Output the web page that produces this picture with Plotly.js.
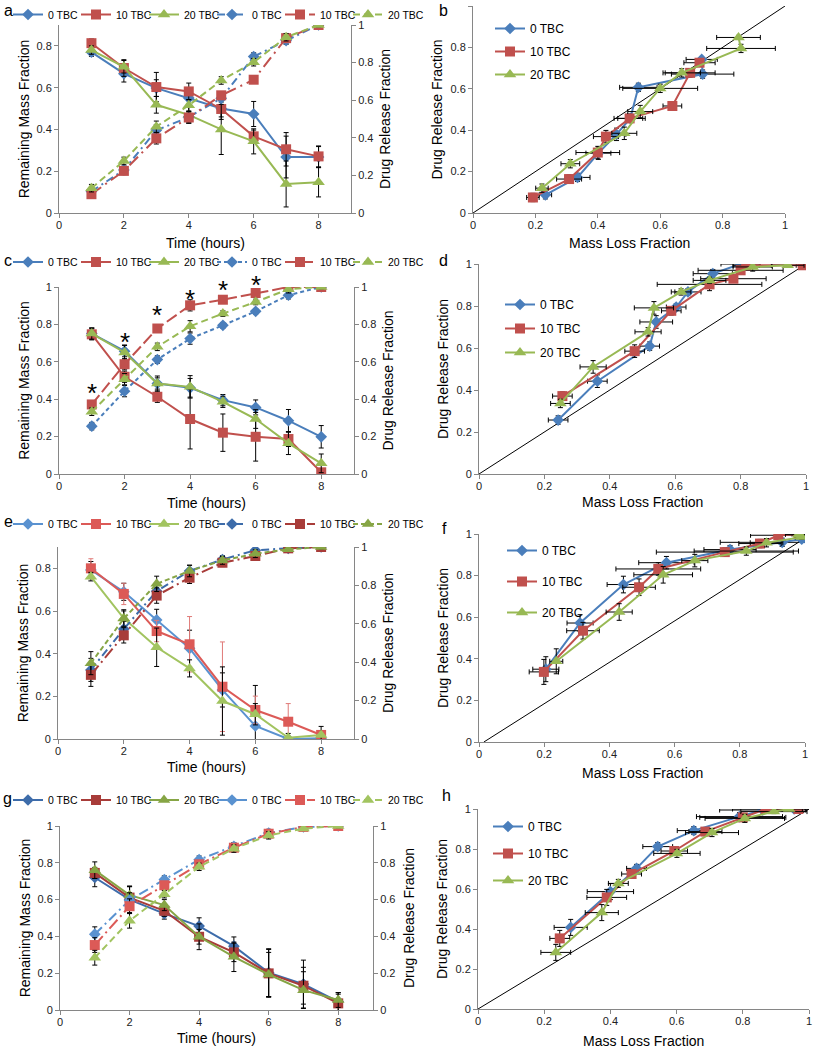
<!DOCTYPE html>
<html>
<head>
<meta charset="utf-8">
<script src="https://cdn.plot.ly/plotly-3.0.1.min.js"></script>
<style>body{margin:0;background:#fff}#plot{width:815px;height:1050px}</style>
</head>
<body>
<div id="plot"></div>
<script>
var W = 815, H = 1050;
var hours = [1, 2, 3, 4, 5, 6, 7, 8];
var seriesNames = ['0 TBC', '10 TBC', '20 TBC'];

// a: remaining mass (left axis) and drug release (right axis) vs time
var aMass0 = [0.77, 0.667, 0.598, 0.55, 0.50, 0.474, 0.268, 0.268];
var aMass10 = [0.813, 0.694, 0.603, 0.582, 0.498, 0.367, 0.305, 0.271];
var aMass20 = [0.78, 0.70, 0.518, 0.47, 0.40, 0.343, 0.139, 0.147];
var aMassErr0 = [0.02, 0.04, 0.04, 0.03, 0.04, 0.06, 0.10, 0.05];
var aMassErr10 = [0.02, 0.04, 0.07, 0.04, 0.05, 0.03, 0.08, 0.05];
var aMassErr20 = [0.02, 0.03, 0.04, 0.04, 0.12, 0.06, 0.11, 0.07];
var aRel0 = [0.115, 0.229, 0.44, 0.51, 0.61, 0.832, 0.917, 1.0];
var aRel10 = [0.10, 0.224, 0.397, 0.508, 0.626, 0.709, 0.93, 1.0];
var aRel20 = [0.132, 0.277, 0.459, 0.573, 0.705, 0.802, 0.935, 1.0];
var aRelErr = [0.02, 0.02, 0.03, 0.03, 0.02, 0.02, 0.02, 0.01];

// b: drug release vs mass loss
var bLoss0 = [0.232, 0.335, 0.402, 0.46, 0.504, 0.530, 0.736, 0.733];
var bRel0 = [0.088, 0.172, 0.289, 0.38, 0.457, 0.607, 0.671, 0.742];
var bLoss10 = [0.192, 0.308, 0.40, 0.426, 0.502, 0.639, 0.696, 0.726];
var bRel10 = [0.075, 0.164, 0.292, 0.369, 0.457, 0.517, 0.677, 0.726];
var bLoss20 = [0.221, 0.312, 0.485, 0.536, 0.60, 0.669, 0.859, 0.851];
var bRel20 = [0.12, 0.238, 0.385, 0.49, 0.602, 0.677, 0.795, 0.848];

// c
var cMass0 = [0.751, 0.657, 0.484, 0.461, 0.395, 0.356, 0.285, 0.199];
var cMass10 = [0.747, 0.52, 0.413, 0.294, 0.221, 0.199, 0.187, 0.009];
var cMass20 = [0.751, 0.65, 0.484, 0.466, 0.386, 0.294, 0.164, 0.057];
var cMassErr0 = [0.03, 0.03, 0.03, 0.05, 0.03, 0.04, 0.06, 0.06];
var cMassErr10 = [0.03, 0.03, 0.03, 0.16, 0.10, 0.13, 0.04, 0.02];
var cMassErr20 = [0.03, 0.04, 0.04, 0.06, 0.03, 0.05, 0.06, 0.05];
var cRel0 = [0.256, 0.443, 0.612, 0.724, 0.795, 0.87, 0.956, 1.0];
var cRel10 = [0.372, 0.587, 0.778, 0.902, 0.932, 0.968, 1.0, 1.0];
var cRel20 = [0.333, 0.507, 0.68, 0.79, 0.858, 0.92, 0.988, 1.0];
var cRelErr = [0.02, 0.03, 0.02, 0.03, 0.015, 0.015, 0.02, 0.01];
var cStarHours = [1, 2, 3, 4, 5, 6];
var cStarY = [0.46, 0.73, 0.875, 0.96, 1.01, 1.035];

// d
var dLoss0 = [0.242, 0.362, 0.522, 0.542, 0.603, 0.639, 0.715, 0.80];
var dRel0 = [0.257, 0.442, 0.609, 0.724, 0.795, 0.867, 0.954, 1.0];
var dLoss10 = [0.255, 0.476, 0.588, 0.705, 0.778, 0.80, 0.817, 0.99];
var dRel10 = [0.371, 0.585, 0.777, 0.903, 0.93, 0.97, 0.994, 0.994];
var dLoss20 = [0.249, 0.349, 0.517, 0.535, 0.618, 0.705, 0.837, 0.944];
var dRel20 = [0.336, 0.51, 0.677, 0.791, 0.867, 0.922, 0.986, 0.994];

// e
var eMass0 = [0.792, 0.69, 0.558, 0.425, 0.23, 0.061, 0.0, 0.003];
var eMass10 = [0.80, 0.68, 0.506, 0.444, 0.245, 0.136, 0.081, 0.019];
var eMass20 = [0.761, 0.566, 0.43, 0.331, 0.178, 0.116, 0.006, 0.019];
var eMassErr0 = [0.04, 0.04, 0.05, 0.085, 0.08, 0.19, 0.01, 0.01];
var eMassErr10 = [0.045, 0.05, 0.05, 0.13, 0.21, 0.065, 0.085, 0.02];
var eMassErr20 = [0.02, 0.04, 0.09, 0.04, 0.16, 0.05, 0.02, 0.04];
var eRel0 = [0.36, 0.573, 0.77, 0.875, 0.935, 0.983, 0.993, 1.0];
var eRel10 = [0.334, 0.54, 0.747, 0.84, 0.918, 0.953, 0.993, 1.0];
var eRel20 = [0.395, 0.627, 0.808, 0.875, 0.93, 0.965, 0.988, 1.0];
var eRelErr = [0.06, 0.04, 0.04, 0.03, 0.02, 0.02, 0.01, 0.01];

// f
var fLoss0 = [0.205, 0.31, 0.443, 0.575, 0.77, 0.93, 0.99, 1.0];
var fRel0 = [0.35, 0.572, 0.757, 0.862, 0.925, 0.96, 0.975, 0.982];
var fLoss10 = [0.199, 0.319, 0.491, 0.55, 0.754, 0.862, 0.918, 0.98];
var fRel10 = [0.337, 0.535, 0.744, 0.832, 0.913, 0.954, 0.994, 1.0];
var fLoss20 = [0.237, 0.43, 0.565, 0.662, 0.82, 0.882, 0.99, 0.98];
var fRel20 = [0.388, 0.625, 0.804, 0.872, 0.918, 0.958, 0.985, 0.998];

// g
var gMass0 = [0.72, 0.60, 0.524, 0.456, 0.347, 0.203, 0.141, 0.045];
var gMass10 = [0.745, 0.611, 0.539, 0.398, 0.313, 0.199, 0.132, 0.036];
var gMass20 = [0.76, 0.624, 0.57, 0.398, 0.289, 0.193, 0.108, 0.054];
var gMassErr0 = [0.05, 0.07, 0.03, 0.045, 0.05, 0.13, 0.13, 0.05];
var gMassErr10 = [0.03, 0.06, 0.03, 0.04, 0.05, 0.13, 0.10, 0.05];
var gMassErr20 = [0.045, 0.05, 0.03, 0.07, 0.08, 0.12, 0.10, 0.04];
var gRel0 = [0.412, 0.597, 0.709, 0.817, 0.89, 0.962, 0.995, 1.0];
var gRel10 = [0.353, 0.564, 0.678, 0.792, 0.882, 0.958, 0.995, 1.0];
var gRel20 = [0.284, 0.485, 0.629, 0.778, 0.877, 0.949, 0.986, 1.0];
var gRelErr = [0.04, 0.04, 0.02, 0.02, 0.02, 0.02, 0.01, 0.01];

// h
var hLoss0 = [0.28, 0.40, 0.479, 0.543, 0.652, 0.79, 0.86, 0.955];
var hRel0 = [0.408, 0.587, 0.703, 0.812, 0.892, 0.962, 0.995, 1.0];
var hLoss10 = [0.247, 0.389, 0.464, 0.593, 0.687, 0.80, 0.869, 0.968];
var hRel10 = [0.353, 0.558, 0.675, 0.79, 0.887, 0.958, 1.0, 1.0];
var hLoss20 = [0.235, 0.374, 0.424, 0.601, 0.707, 0.806, 0.894, 0.94];
var hRel20 = [0.283, 0.482, 0.628, 0.778, 0.882, 0.953, 0.987, 1.0];

// reference y = x lines
var diagX = [0, 1], diagY = [0, 1];
var fDiagX = [0.015, 1], fDiagY = [0, 0.98];

var symbols = ['diamond', 'square', 'triangle-up'];
var symSize = [9, 10, 11];
var stdCol = ['#4A7EBB', '#C0504D', '#98B954'];
var lightCol = ['#5A92D0', '#DC5A57', '#A2C460'];
var darkCol = ['#3D6CAA', '#A83C39', '#86A545'];

// legendPx for the time panels is the centre of the legend row; 'top' pins the first legend to the page top
var left = [
  {letter: 'a', xPx: [59, 351], yPx: [25, 213], massTop: 0.9,
   mass: [aMass0, aMass10, aMass20], massErr: [aMassErr0, aMassErr10, aMassErr20],
   rel: [aRel0, aRel10, aRel20], relErr: aRelErr,
   solidCol: stdCol, dashCol: stdCol, errCol: ['#000', '#000', '#000'],
   dash: ['8px,4px,2px,4px', '12px,5px,2px,5px', '7px,4px'], legendPx: [8, 0], legendAnchor: 'top',
   labelPx: [2, 0], labelAnchor: 'top', xTitleY: 243, rStand: 7},
  {letter: 'c', xPx: [59, 354], yPx: [287, 474], massTop: 1,
   mass: [cMass0, cMass10, cMass20], massErr: [cMassErr0, cMassErr10, cMassErr20],
   rel: [cRel0, cRel10, cRel20], relErr: cRelErr,
   solidCol: stdCol, dashCol: stdCol, errCol: ['#000', '#000', '#000'],
   dash: ['4px,3px', '12px,4px', '7px,4px'], legendPx: [8, 262], legendAnchor: 'middle',
   labelPx: [2, 260], labelAnchor: 'middle', xTitleY: 503, rStand: 7},
  {letter: 'e', xPx: [58, 354], yPx: [547, 739], massTop: 0.9,
   mass: [eMass0, eMass10, eMass20], massErr: [eMassErr0, eMassErr10, eMassErr20],
   rel: [eRel0, eRel10, eRel20], relErr: eRelErr,
   solidCol: lightCol, dashCol: darkCol, errCol: ['#000', '#E07A78', '#000'],
   dash: ['8px,4px,2px,4px', '12px,4px,2px,4px', '5px,3px'], legendPx: [8, 524], legendAnchor: 'middle',
   labelPx: [2, 521], labelAnchor: 'middle', xTitleY: 767, rStand: 7},
  {letter: 'g', xPx: [60, 373], yPx: [826, 1010], massTop: 1,
   mass: [gMass0, gMass10, gMass20], massErr: [gMassErr0, gMassErr10, gMassErr20],
   rel: [gRel0, gRel10, gRel20], relErr: gRelErr,
   solidCol: darkCol, dashCol: lightCol, errCol: ['#000', '#000', '#000'],
   dash: ['10px,4px,2px,4px', '12px,4px,2px,4px', '7px,4px'], legendPx: [8, 800], legendAnchor: 'middle',
   labelPx: [1, 798], labelAnchor: 'middle', xTitleY: 1038, rStand: 9}
];

var right = [
  {letter: 'b', xPx: [473, 785], yPx: [6, 213],
   loss: [bLoss0, bLoss10, bLoss20], rel: [bRel0, bRel10, bRel20],
   lossErr: [aMassErr0, aMassErr10, aMassErr20], relErr: aRelErr,
   diag: [diagX, diagY], legendPx: [490, 14], gap: 4, labelPx: [437, 0], labelAnchor: 'top', xTitleY: 243},
  {letter: 'd', xPx: [479, 806], yPx: [264, 474],
   loss: [dLoss0, dLoss10, dLoss20], rel: [dRel0, dRel10, dRel20],
   lossErr: [cMassErr0, cMassErr10, cMassErr20], relErr: cRelErr,
   diag: [diagX, diagY], legendPx: [500, 290], gap: 5, labelPx: [437, 260], labelAnchor: 'middle', xTitleY: 502},
  {letter: 'f', xPx: [479, 805], yPx: [534, 742],
   loss: [fLoss0, fLoss10, fLoss20], rel: [fRel0, fRel10, fRel20],
   lossErr: [eMassErr0, eMassErr10, eMassErr20], relErr: eRelErr,
   diag: [fDiagX, fDiagY], legendPx: [502, 536], gap: 12, labelPx: [440, 528], labelAnchor: 'middle', xTitleY: 773},
  {letter: 'h', xPx: [478, 809], yPx: [809, 1009],
   loss: [hLoss0, hLoss10, hLoss20], rel: [hRel0, hRel10, hRel20],
   lossErr: [gMassErr0, gMassErr10, gMassErr20], relErr: gRelErr,
   diag: [diagX, diagY], legendPx: [488, 812], gap: 8, labelPx: [440, 795], labelAnchor: 'middle', xTitleY: 1041}
];

function axId(l, n) { return l + (n === 1 ? '' : n); }
function axKey(l, n) { return l + 'axis' + (n === 1 ? '' : n); }
function legKey(n) { return 'legend' + (n === 1 ? '' : n); }
function baseAxis(o) {
  var a = {showline: true, linecolor: '#868686', linewidth: 1, ticks: 'outside', ticklen: 4,
    tickcolor: '#868686', showgrid: false, zeroline: false, fixedrange: true,
    tickfont: {size: 11, color: '#222'}};
  for (var k in o) a[k] = o[k];
  return a;
}
function ttl(text, standoff) { return {text: text, font: {size: 14, color: '#000'}, standoff: standoff}; }
function errBar(arr, col) { return {type: 'data', array: arr, color: col, thickness: 1, width: 2.5}; }
function xTitle(xn, text, py) {
  return {xref: axId('x', xn) + ' domain', yref: 'paper', x: 0.5, y: 1 - py / H, xanchor: 'center',
    yanchor: 'middle', text: text, showarrow: false, font: {size: 14, color: '#000'}};
}
function panelLabel(p) {
  return {xref: 'paper', yref: 'paper', x: p.labelPx[0] / W, y: 1 - p.labelPx[1] / H,
    xanchor: 'left', yanchor: p.labelAnchor, text: p.letter, showarrow: false, font: {size: 16}};
}

var traces = [];
var layout = {
  width: W, height: H, margin: {l: 0, r: 0, t: 0, b: 0},
  paper_bgcolor: '#fff', plot_bgcolor: 'rgba(0,0,0,0)',
  font: {family: 'Liberation Sans, Arial, sans-serif', color: '#000', size: 11},
  annotations: []
};

left.forEach(function (p, i) {
  var xn = 2 * i + 1, ym = 3 * i + 1, yr = 3 * i + 2, ln = 2 * i + 1;
  var xd = [p.xPx[0] / W, p.xPx[1] / W], yd = [1 - p.yPx[1] / H, 1 - p.yPx[0] / H];
  layout[axKey('x', xn)] = baseAxis({domain: xd, anchor: axId('y', ym), range: [0, 9], dtick: 2, tick0: 0,
    ticklabelstandoff: -2});
  layout[axKey('y', ym)] = baseAxis({domain: yd, anchor: axId('x', xn), range: [0, p.massTop], dtick: 0.2,
    title: ttl('Remaining Mass Fraction', 3)});
  layout[axKey('y', yr)] = baseAxis({overlaying: axId('y', ym), side: 'right', anchor: axId('x', xn),
    range: [0, 1], dtick: 0.2, title: ttl('Drug Release Fraction', p.rStand)});
  layout[legKey(ln)] = {orientation: 'h', x: p.legendPx[0] / W, y: 1 - p.legendPx[1] / H,
    xanchor: 'left', yanchor: p.legendAnchor, entrywidth: 23, entrywidthmode: 'pixels', itemwidth: 30,
    font: {size: 10.5}, bgcolor: 'rgba(0,0,0,0)', traceorder: 'normal'};
  for (var s = 0; s < 3; s++) {
    traces.push({x: hours, y: p.mass[s], type: 'scatter', mode: 'lines+markers', name: seriesNames[s],
      xaxis: axId('x', xn), yaxis: axId('y', ym), legend: legKey(ln),
      line: {color: p.solidCol[s], width: 2},
      marker: {symbol: symbols[s], size: symSize[s], color: p.solidCol[s]},
      error_y: errBar(p.massErr[s], p.errCol[s])});
  }
  for (var s2 = 0; s2 < 3; s2++) {
    traces.push({x: hours, y: p.rel[s2], type: 'scatter', mode: 'lines+markers', name: seriesNames[s2],
      xaxis: axId('x', xn), yaxis: axId('y', yr), legend: legKey(ln), legendwidth: s2 === 2 ? 45 : 23,
      line: {color: p.dashCol[s2], width: 2, dash: p.dash[s2]},
      marker: {symbol: symbols[s2], size: symSize[s2], color: p.dashCol[s2]},
      error_y: errBar(p.relErr, '#000')});
  }
  layout.annotations.push(xTitle(xn, 'Time (hours)', p.xTitleY));
  layout.annotations.push(panelLabel(p));
});

// significance stars above the 10 TBC release curve in c (release axis spans 0-1, so its domain matches its data)
cStarHours.forEach(function (h, k) {
  layout.annotations.push({xref: 'x3', yref: 'y5 domain', x: h, y: cStarY[k], text: '*', showarrow: false,
    yanchor: 'middle', yshift: -5, font: {size: 26}});
});

right.forEach(function (p, i) {
  var xn = 2 * i + 2, yn = 3 * i + 3, ln = 2 * i + 2;
  var xd = [p.xPx[0] / W, p.xPx[1] / W], yd = [1 - p.yPx[1] / H, 1 - p.yPx[0] / H];
  layout[axKey('x', xn)] = baseAxis({domain: xd, anchor: axId('y', yn), range: [0, 1], dtick: 0.2,
    ticklabelstandoff: -2});
  layout[axKey('y', yn)] = baseAxis({domain: yd, anchor: axId('x', xn), range: [0, 1], dtick: 0.2,
    title: ttl('Drug Release Fraction', 4)});
  layout[legKey(ln)] = {orientation: 'v', x: p.legendPx[0] / W, y: 1 - p.legendPx[1] / H,
    xanchor: 'left', yanchor: 'top', itemwidth: 30, tracegroupgap: p.gap,
    font: {size: 12}, bgcolor: 'rgba(0,0,0,0)'};
  traces.push({x: p.diag[0], y: p.diag[1], type: 'scatter', mode: 'lines', showlegend: false,
    xaxis: axId('x', xn), yaxis: axId('y', yn), line: {color: '#000', width: 1}, hoverinfo: 'skip'});
  for (var s = 0; s < 3; s++) {
    traces.push({x: p.loss[s], y: p.rel[s], type: 'scatter', mode: 'lines+markers', name: seriesNames[s],
      xaxis: axId('x', xn), yaxis: axId('y', yn), legend: legKey(ln), legendgroup: p.letter + s,
      line: {color: stdCol[s], width: 2},
      marker: {symbol: symbols[s], size: symSize[s], color: stdCol[s]},
      error_x: errBar(p.lossErr[s], '#000'), error_y: errBar(p.relErr, '#000')});
  }
  layout.annotations.push(xTitle(xn, 'Mass Loss Fraction', p.xTitleY));
  layout.annotations.push(panelLabel(p));
});

Plotly.newPlot('plot', traces, layout, {staticPlot: true});
</script>
</body>
</html>
